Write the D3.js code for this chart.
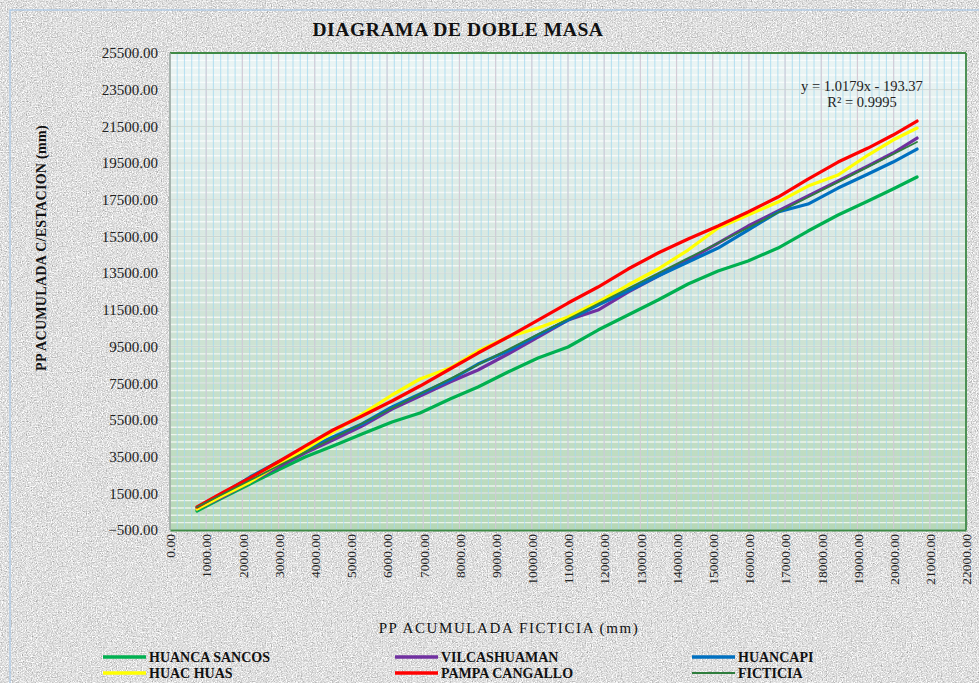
<!DOCTYPE html>
<html><head><meta charset="utf-8">
<script src="https://cdn.jsdelivr.net/npm/d3@7"></script>
<style>html,body{margin:0;padding:0;background:#fff;overflow:hidden}svg{display:block}</style>
</head><body>
<svg id="c" width="979" height="683"></svg>
<script>
// ---- data ----
const xFicticia = [746, 1437, 2211, 2985, 3731, 4505, 5307, 6136, 6910, 7739, 8513, 9342, 10172, 11001, 11830, 12659, 13488, 14318, 15147, 15976, 16805, 17634, 18464, 19293, 19984, 20647];
const huancaSancos = [535, 1244, 2007, 2770, 3479, 4078, 4732, 5386, 5877, 6640, 7294, 8111, 8874, 9474, 10400, 11218, 12035, 12907, 13616, 14161, 14869, 15796, 16668, 17431, 18085, 18739];
const vilcashuaman = [645, 1299, 2116, 2934, 3697, 4405, 5168, 6095, 6803, 7566, 8220, 9092, 10019, 10945, 11490, 12471, 13343, 14215, 15142, 16068, 16886, 17703, 18521, 19338, 20047, 20864];
const huancapi = [699, 1462, 2389, 3206, 3860, 4569, 5277, 6204, 6912, 7675, 8547, 9256, 10128, 10945, 11763, 12526, 13343, 14106, 14869, 15850, 16831, 17267, 18139, 18902, 19556, 20265];
const huacHuas = [645, 1353, 2116, 3043, 3915, 4841, 5822, 6858, 7730, 8329, 9256, 10019, 10509, 11109, 11926, 12853, 13725, 14760, 15959, 16668, 17376, 18248, 18848, 19938, 20755, 21409];
const pampaCangallo = [754, 1517, 2334, 3206, 4078, 4950, 5713, 6531, 7348, 8275, 9147, 10019, 10945, 11872, 12744, 13725, 14597, 15360, 16068, 16831, 17649, 18630, 19556, 20319, 21028, 21791];
const ficticia = [746, 1437, 2211, 2985, 3731, 4505, 5307, 6136, 6910, 7739, 8513, 9342, 10172, 11001, 11830, 12659, 13488, 14318, 15147, 15976, 16805, 17634, 18464, 19293, 19984, 20647];
const seriesNames = ["HUANCA SANCOS", "VILCASHUAMAN", "HUANCAPI", "HUAC HUAS", "PAMPA CANGALLO", "FICTICIA"];
const seriesColors = ["#00b050", "#7030a0", "#0070c0", "#ffff00", "#ff0000", "#2e7d3c"];
const xTicks = d3.range(0, 22001, 1000);
const yTicks = d3.range(-500, 25501, 2000);
const trendCoef = [1.0179, -193.37];
const titleText = "DIAGRAMA DE DOBLE MASA";
const xTitle = "PP ACUMULADA FICTICIA (mm)";
const yTitle = "PP ACUMULADA C/ESTACION (mm)";
const eqLines = ["y = 1.0179x - 193.37", "R² = 0.9995"];

const allSeries = [huancaSancos, vilcashuaman, huancapi, huacHuas, pampaCangallo, ficticia];

const svg = d3.select("#c");
const serif = "'Liberation Serif','Times New Roman',serif";

// background texture
const defs = svg.append("defs");
const f = defs.append("filter").attr("id","granite").attr("filterUnits","userSpaceOnUse")
  .attr("color-interpolation-filters","sRGB")
  .attr("x",0).attr("y",0).attr("width",979).attr("height",683);
f.append("feTurbulence").attr("type","fractalNoise").attr("baseFrequency",0.8).attr("numOctaves",3).attr("seed",7).attr("result","t");
f.append("feColorMatrix").attr("in","t").attr("type","matrix")
 .attr("values","0.33 0.33 0.33 0 0 0.33 0.33 0.33 0 0 0.33 0.33 0.33 0 0 0 0 0 0 1").attr("result","g");
const ct = f.append("feComponentTransfer").attr("in","g");
["feFuncR","feFuncG","feFuncB"].forEach(n=>ct.append(n).attr("type","linear").attr("slope",1.0).attr("intercept",0.38));

const grad = defs.append("linearGradient").attr("id","pg").attr("x1",0).attr("y1",0).attr("x2",0).attr("y2",1);
grad.append("stop").attr("offset","0%").attr("stop-color","#ebf5f5");
grad.append("stop").attr("offset","45%").attr("stop-color","#d6e6de");
grad.append("stop").attr("offset","100%").attr("stop-color","#b6d8b6");

svg.append("rect").attr("width",979).attr("height",683).attr("fill","#fff");
svg.append("rect").attr("x",10).attr("y",10).attr("width",969).attr("height",673).attr("fill","#dcdcdc");
svg.append("rect").attr("x",10).attr("y",10).attr("width",969).attr("height",673).attr("fill","#ddd").attr("filter","url(#granite)");
svg.append("rect").attr("x",10).attr("y",10).attr("width",975).attr("height",680).attr("fill","none").attr("stroke","#a7c7e7").attr("stroke-width",1.2);

const L = 170, R = 966, T = 53, B = 530;
const x = d3.scaleLinear().domain([0, 22000]).range([L, R]);
const y = d3.scaleLinear().domain([-500, 25500]).range([B, T]);

// plot area
svg.append("rect").attr("x",L).attr("y",T).attr("width",R-L).attr("height",B-T).attr("fill","url(#pg)");
const grid = svg.append("g");
grid.selectAll(".hm").data(d3.range(-500, 25501, 400)).join("line")
  .attr("x1",L).attr("x2",R).attr("y1",d=>y(d)).attr("y2",d=>y(d))
  .attr("stroke","#ffffff").attr("stroke-opacity",0.7).attr("stroke-width",1.4);
grid.selectAll(".vm").data(d3.range(0, 22001, 200)).join("line")
  .attr("y1",T).attr("y2",B).attr("x1",d=>x(d)).attr("x2",d=>x(d))
  .attr("stroke","#a6daf0").attr("stroke-opacity",0.75).attr("stroke-width",1.1);
grid.selectAll(".vM").data(xTicks).join("line")
  .attr("y1",T).attr("y2",B).attr("x1",d=>x(d)).attr("x2",d=>x(d))
  .attr("stroke","#dcc6cf").attr("stroke-opacity",0.8).attr("stroke-width",1.1);
grid.selectAll(".hM").data(yTicks).join("line")
  .attr("x1",L).attr("x2",R).attr("y1",d=>y(d)).attr("y2",d=>y(d))
  .attr("stroke","#c9d6d2").attr("stroke-width",1);

// frame
svg.append("line").attr("x1",L).attr("x2",R).attr("y1",T).attr("y2",T).attr("stroke","#3f8a46").attr("stroke-width",1.8);
svg.append("line").attr("x1",R).attr("x2",R).attr("y1",T).attr("y2",B).attr("stroke","#3f8a46").attr("stroke-width",1.8);
svg.append("line").attr("x1",L).attr("x2",L).attr("y1",T).attr("y2",B).attr("stroke","#9aa89f").attr("stroke-width",1.5);

// axes
const yAxis = d3.axisLeft(y).tickValues(yTicks).tickFormat(d3.format(".2f")).tickSize(0).tickPadding(12);
const gy = svg.append("g").attr("transform",`translate(${L},0)`).call(yAxis);
gy.select(".domain").remove();
gy.selectAll("text").attr("font-family",serif).attr("font-size",15).attr("fill","#222");

const xAxis = d3.axisBottom(x).tickValues(xTicks).tickFormat(d3.format(".2f")).tickSize(0);
const gx = svg.append("g").attr("transform",`translate(0,${B})`).call(xAxis);
gx.select(".domain").attr("stroke","#3f8a46").attr("stroke-width",2);
gx.selectAll("text").attr("font-family",serif).attr("font-size",13.5).attr("fill","#222")
  .attr("text-anchor","end").attr("transform","rotate(-90)").attr("x",-4).attr("y",0).attr("dy","0.35em");

// trend line (from displayed equation)
const tx = d3.extent(xFicticia);
svg.append("line").attr("x1",x(tx[0])).attr("x2",x(tx[1]))
  .attr("y1",y(trendCoef[0]*tx[0]+trendCoef[1])).attr("y2",y(trendCoef[0]*tx[1]+trendCoef[1]))
  .attr("stroke","#cfe0ee").attr("stroke-width",1.5).attr("stroke-dasharray","2,2");

// series
const line = d3.line().x((d,i)=>x(xFicticia[i])).y(d=>y(d));
allSeries.forEach((s,k)=>{
  svg.append("path").datum(s).attr("d",line).attr("fill","none")
    .attr("stroke",seriesColors[k]).attr("stroke-width",k===5?1.8:3.2)
    .attr("stroke-linejoin","round").attr("stroke-linecap","round");
});

// equation
svg.append("text").attr("x",862).attr("y",91).attr("text-anchor","middle").attr("font-family",serif).attr("font-size",14.5).attr("fill","#222").text(eqLines[0]);
svg.append("text").attr("x",862).attr("y",107).attr("text-anchor","middle").attr("font-family",serif).attr("font-size",14.5).attr("fill","#222").text(eqLines[1]);

// titles
svg.append("text").attr("x",458).attr("y",36).attr("text-anchor","middle").attr("font-family",serif).attr("font-weight","bold").attr("font-size",19.5).attr("letter-spacing",0.6).attr("fill","#111").text(titleText);
svg.append("text").attr("transform","translate(46,248) rotate(-90)").attr("text-anchor","middle").attr("font-family",serif).attr("font-weight","bold").attr("font-size",14).attr("letter-spacing",0.3).attr("fill","#111").text(yTitle);
svg.append("text").attr("x",509).attr("y",633).attr("text-anchor","middle").attr("font-family",serif).attr("font-size",15).attr("letter-spacing",1.6).attr("fill","#111").text(xTitle);

// legend
const legX = [103, 395, 692], legY = [657, 673];
seriesNames.forEach((n,k)=>{
  const cx = legX[k%3], cy = legY[Math.floor(k/3)];
  svg.append("line").attr("x1",cx).attr("x2",cx+43).attr("y1",cy).attr("y2",cy)
    .attr("stroke",seriesColors[k]).attr("stroke-width",k===5?2:3.5);
  svg.append("text").attr("x",cx+46).attr("y",cy+5).attr("font-family",serif).attr("font-weight","bold")
    .attr("font-size",14).attr("fill","#111").text(n);
});
</script>
</body></html>
